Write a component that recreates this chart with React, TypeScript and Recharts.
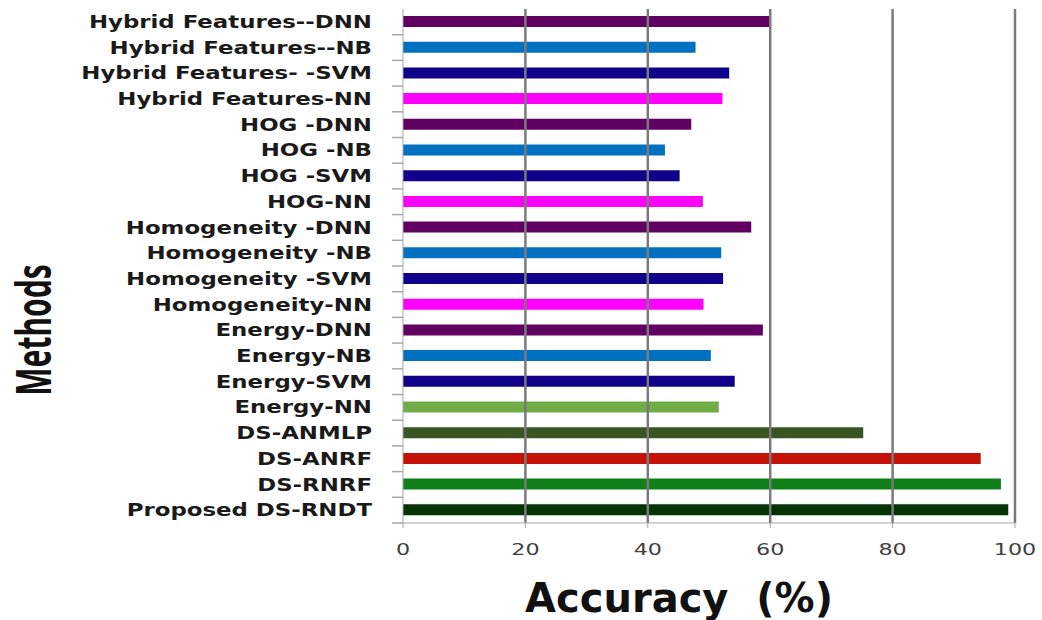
import React from "react";
import { BarChart, Bar, XAxis, YAxis, Cell, ReferenceLine, Label } from "recharts";

const methods = [
  "Hybrid Features--DNN",
  "Hybrid Features--NB",
  "Hybrid Features- -SVM",
  "Hybrid Features-NN",
  "HOG -DNN",
  "HOG -NB",
  "HOG -SVM",
  "HOG-NN",
  "Homogeneity -DNN",
  "Homogeneity -NB",
  "Homogeneity -SVM",
  "Homogeneity-NN",
  "Energy-DNN",
  "Energy-NB",
  "Energy-SVM",
  "Energy-NN",
  "DS-ANMLP",
  "DS-ANRF",
  "DS-RNRF",
  "Proposed DS-RNDT",
];

const accuracy = [
  60, 47.8, 53.3, 52.2, 47.1, 42.8, 45.2, 49.0, 56.9, 52.0, 52.3, 49.1, 58.8,
  50.3, 54.2, 51.6, 75.2, 94.4, 97.7, 98.9,
];

const barColors = [
  "#600060", "#0070c0", "#10008a", "#ff00ff",
  "#600060", "#0070c0", "#10008a", "#ff00ff",
  "#600060", "#0070c0", "#10008a", "#ff00ff",
  "#600060", "#0070c0", "#10008a", "#70ad47",
  "#375623", "#c41208", "#11801a", "#063306",
];

const xTicks = [0, 20, 40, 60, 80, 100];
const gridValues = [20, 40, 60, 80, 100];

const data = methods.map((name, i) => ({ name, value: accuracy[i] }));

const YTick = (props: any) => {
  const { x, y, payload } = props;
  const off = payload && typeof payload.offset === "number" ? payload.offset : 12.85;
  return (
    <g>
      <text
        transform={`translate(${x},${y}) scale(1.27,1)`}
        textAnchor="end"
        dominantBaseline="central"
        fontFamily="DejaVu Sans"
        fontWeight="bold"
        fontSize={18}
        fill="#1a1a1a"
      >
        {payload.value}
      </text>
      <line x1={x + 20} x2={x + 31} y1={y + off} y2={y + off} stroke="#a6a6a6" strokeWidth={1.5} />
    </g>
  );
};

const XTick = (props: any) => {
  const { x, y, payload } = props;
  return (
    <text
      transform={`translate(${x},${y + 25}) scale(1.35,1)`}
      textAnchor="middle"
      fontFamily="DejaVu Sans"
      fontSize={16.5}
      fill="#404040"
    >
      {payload.value}
    </text>
  );
};

const XTitle = (props: any) => {
  const vb = props.viewBox || { x: 403, y: 523, width: 612, height: 97 };
  return (
    <text
      x={vb.x + vb.width / 2 - 30}
      y={vb.y + vb.height - 8}
      textAnchor="middle"
      fontFamily="DejaVu Sans"
      fontWeight="bold"
      fontSize={40}
      fill="#111111"
      style={{ whiteSpace: "pre" }}
    >
      {"Accuracy  (%)"}
    </text>
  );
};

const YTitle = () => {
  return (
    <text
      transform="translate(32,330) rotate(-90) scale(1,1.6)"
      textAnchor="middle"
      dominantBaseline="central"
      fontFamily="Noto Sans"
      fontWeight="bold"
      fontSize={30}
      fill="#111111"
    >
      Methods
    </text>
  );
};

export default function App() {
  return (
    <div style={{ position: "absolute", left: 0, top: 0, width: 1042, height: 620, background: "#fff" }}>
      <BarChart
        width={1042}
        height={620}
        data={data}
        layout="vertical"
        margin={{ top: 9, right: 27, bottom: 0, left: 0 }}
      >
        {gridValues.map((v) => (
          <ReferenceLine key={v} x={v} stroke="#7a7a7a" strokeWidth={2.5} />
        ))}
        <XAxis
          type="number"
          domain={[0, 100]}
          ticks={xTicks}
          height={97}
          stroke="#a6a6a6"
          tickSize={5}
          tick={<XTick />}
          interval={0}
        >
          <Label content={<XTitle />} />
        </XAxis>
        <YAxis
          type="category"
          dataKey="name"
          width={403}
          stroke="#a6a6a6"
          tickLine={false}
          tickSize={0}
          tickMargin={31}
          interval={0}
          tick={<YTick />}
        >
          <Label content={<YTitle />} />
        </YAxis>
        <Bar dataKey="value" barSize={11} isAnimationActive={false}>
          {data.map((d, i) => (
            <Cell key={d.name} fill={barColors[i]} />
          ))}
        </Bar>
      </BarChart>
    </div>
  );
}
